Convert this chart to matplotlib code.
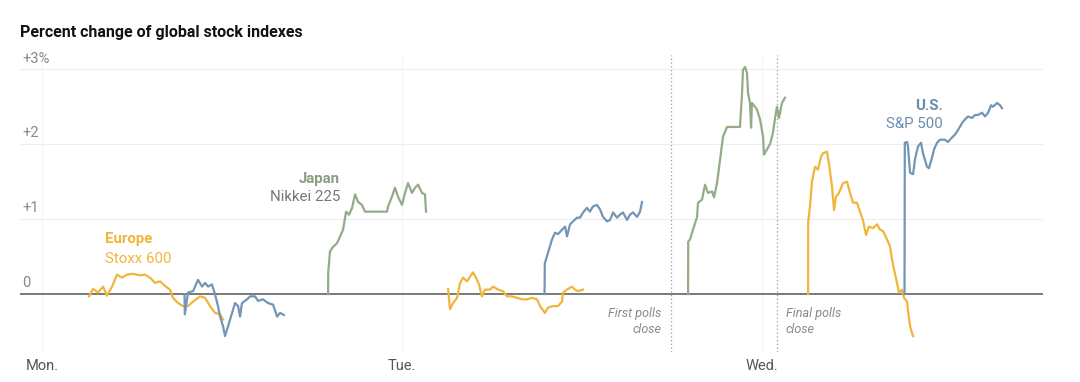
import numpy as np
import matplotlib.pyplot as plt
from matplotlib import transforms

# hours since Monday 00:00 ET, percent change
eu_mon_t = [3.13, 3.40, 3.73, 4.07, 4.33, 4.67, 5.00, 5.33, 5.67, 6.07, 6.53, 6.87, 7.20, 7.53,
            7.87, 8.20, 8.53, 8.73, 9.07, 9.40, 9.73, 10.07, 10.53, 10.87, 11.20, 11.53, 11.87, 12.07]
eu_mon_v = [-0.03, 0.07, 0.02, 0.10, -0.02, 0.10, 0.26, 0.22, 0.26, 0.27, 0.25, 0.26, 0.22, 0.15,
            0.17, 0.11, 0.06, -0.05, -0.12, -0.16, -0.16, -0.10, -0.03, -0.05, -0.16, -0.25, -0.27, -0.34]

us_mon_t = [9.50, 9.52, 9.73, 10.07, 10.40, 10.67, 10.87, 11.07, 11.33, 11.53, 11.73, 11.87, 12.07, 12.20, 12.40,
            12.67, 12.87, 13.07, 13.20, 13.33, 13.67, 13.87, 14.20, 14.40, 14.73, 15.07, 15.40, 15.67, 15.87, 16.13]
us_mon_v = [0, -0.27, 0.02, 0.04, 0.19, 0.10, 0.15, 0.10, 0.13, 0.0, -0.16, -0.30, -0.43, -0.56, -0.43,
            -0.25, -0.12, -0.16, -0.30, -0.12, -0.07, -0.03, -0.03, -0.09, -0.07, -0.12, -0.14, -0.30, -0.25, -0.28]

jp_tue_t = [19.07, 19.08, 19.20, 19.40, 19.67, 19.87, 20.07, 20.27, 20.47, 20.67, 20.87, 21.07, 21.33, 21.53,
            23.00, 23.07, 23.33, 23.53, 23.73, 24.00, 24.20, 24.40, 24.67, 24.87, 25.07, 25.33, 25.53, 25.60]
jp_tue_v = [0, 0.29, 0.57, 0.63, 0.68, 0.77, 0.86, 1.10, 1.06, 1.15, 1.33, 1.23, 1.19, 1.10,
            1.10, 1.17, 1.30, 1.42, 1.30, 1.19, 1.35, 1.48, 1.35, 1.42, 1.46, 1.35, 1.33, 1.10]

eu_tue_t = [27.07, 27.20, 27.40, 27.67, 27.87, 28.07, 28.33, 28.53, 28.73, 28.93, 29.13, 29.33, 29.53, 29.87,
            30.07, 30.40, 30.73, 31.00, 31.33, 31.67, 32.00, 32.33, 32.67, 33.00, 33.20, 33.53, 33.73, 34.07,
            34.40, 34.67, 34.73, 35.00, 35.33, 35.53, 35.73, 36.07]
eu_tue_v = [0.07, -0.20, -0.12, -0.05, 0.15, 0.22, 0.17, 0.23, 0.29, 0.22, 0.13, -0.03, 0.06, 0.06,
            0.10, 0.06, 0.04, -0.03, -0.03, -0.05, -0.07, -0.07, -0.05, -0.07, -0.16, -0.25, -0.18, -0.16,
            -0.16, -0.10, 0.02, 0.06, 0.10, 0.06, 0.04, 0.06]

us_tue_t = [33.50, 33.52, 33.73, 34.00, 34.20, 34.40, 34.67, 34.87, 35.00, 35.20, 35.40, 35.67, 35.87, 36.07,
            36.33, 36.53, 36.73, 37.00, 37.20, 37.40, 37.67, 37.87, 38.07, 38.33, 38.53, 38.73, 39.00, 39.20,
            39.40, 39.67, 39.87, 40.00]
us_tue_v = [0, 0.41, 0.55, 0.73, 0.82, 0.80, 0.86, 0.90, 0.77, 0.93, 0.97, 1.02, 1.02, 1.09,
            1.15, 1.10, 1.17, 1.19, 1.13, 1.03, 0.97, 0.99, 1.09, 1.02, 1.06, 1.09, 0.99, 1.06,
            1.09, 1.03, 1.10, 1.23]

jp_wed_t = [43.07, 43.08, 43.20, 43.40, 43.67, 43.73, 44.00, 44.20, 44.40, 44.67, 44.80, 45.00, 45.20, 45.40,
            45.67, 46.53, 46.67, 46.73, 46.87, 47.00, 47.07, 47.20, 47.27, 47.33, 47.53, 47.67, 47.87, 48.07,
            48.13, 48.33, 48.53, 48.73, 48.87, 49.00, 49.13, 49.33, 49.53]
jp_wed_v = [0, 0.70, 0.73, 0.86, 1.03, 1.22, 1.26, 1.46, 1.35, 1.37, 1.29, 1.48, 1.79, 2.10,
            2.23, 2.23, 2.68, 2.99, 3.03, 2.95, 2.68, 2.55, 2.22, 2.55, 2.50, 2.46, 2.33, 2.10,
            1.86, 1.93, 2.00, 2.15, 2.35, 2.50, 2.35, 2.55, 2.62]

eu_wed_t = [51.07, 51.08, 51.20, 51.33, 51.53, 51.73, 51.93, 52.07, 52.33, 52.47, 52.67, 52.80, 52.93, 53.13,
            53.40, 53.67, 53.87, 54.07, 54.33, 54.60, 54.73, 54.93, 55.13, 55.40, 55.67, 55.87, 56.07, 56.33,
            56.53, 56.67, 56.80, 57.00, 57.13, 57.33, 57.47, 57.67, 57.73, 57.87, 58.00, 58.07]
eu_wed_v = [0, 0.97, 1.17, 1.50, 1.70, 1.66, 1.83, 1.88, 1.90, 1.73, 1.43, 1.12, 1.30, 1.35,
            1.48, 1.50, 1.35, 1.22, 1.22, 1.06, 0.99, 0.79, 0.90, 0.88, 0.93, 0.86, 0.84, 0.73,
            0.64, 0.46, 0.33, 0.15, 0.02, 0.06, -0.05, -0.10, -0.21, -0.43, -0.52, -0.56]

us_wed_t = [57.50, 57.52, 57.67, 57.73, 57.87, 58.07, 58.20, 58.40, 58.60, 58.73, 59.00, 59.13, 59.33, 59.47,
            59.67, 59.87, 60.20, 60.40, 60.67, 60.87, 61.07, 61.33, 61.53, 61.73, 62.00, 62.20, 62.40, 62.67,
            62.87, 63.07, 63.27, 63.40, 63.67, 63.87, 64.00]
us_wed_v = [0, 2.02, 2.03, 1.97, 1.62, 1.60, 1.80, 1.97, 2.02, 1.88, 1.70, 1.68, 1.82, 1.93,
            2.02, 2.06, 2.06, 2.03, 2.09, 2.13, 2.19, 2.28, 2.33, 2.37, 2.35, 2.39, 2.39, 2.42,
            2.37, 2.42, 2.52, 2.50, 2.55, 2.52, 2.48]

day_ticks = [0, 24, 48]
day_labels = ["Mon.", "Tue.", "Wed."]
y_ticks = [0, 1, 2, 3]
y_labels = ["0", "+1", "+2", "+3%"]
first_polls = 41.93
final_polls = 49.0

orange = "#f2b53c"
green = "#94ab88"
blue = "#7395b6"

plt.rcParams['font.family'] = ['Roboto', 'DejaVu Sans']

fig = plt.figure(figsize=(10.8, 3.82), dpi=100)
fig.patch.set_facecolor("white")
ax = fig.add_axes([0.0185, 0.079, 0.9472, 0.777])
ax.set_xlim(-1.47, 66.73)
ax.set_ylim(-0.77, 3.19)
for s in ax.spines.values():
    s.set_visible(False)

# grid
for y in y_ticks[1:]:
    ax.axhline(y, color="#eeeeee", lw=0.8, zorder=0)
for d in day_ticks:
    ax.axvline(d, color="#f5f5f5", lw=0.8, zorder=0)
ax.axhline(0, color="#555555", lw=1.1, zorder=1)

ytr = transforms.blended_transform_factory(ax.transAxes, ax.transData)
for y, lab in zip(y_ticks, y_labels):
    ax.text(0.002, y + 0.05, lab, transform=ytr, ha="left", va="bottom",
            fontsize=10.5, color="#888888")

ax.set_xticks(day_ticks)
ax.set_xticklabels(day_labels, fontsize=10.5, color="#555555")
ax.tick_params(axis="x", length=0, pad=5)
ax.set_yticks([])

# poll closing lines
for xp in [first_polls, final_polls]:
    ax.axvline(xp, color="#999999", lw=0.9, ls=(0, (1, 2)), zorder=1)

lw = 1.6
ax.plot(eu_mon_t, eu_mon_v, color=orange, lw=lw, zorder=3)
ax.plot(us_mon_t, us_mon_v, color=blue, lw=lw, zorder=3)
ax.plot(jp_tue_t, jp_tue_v, color=green, lw=lw, zorder=3)
ax.plot(eu_tue_t, eu_tue_v, color=orange, lw=lw, zorder=3)
ax.plot(us_tue_t, us_tue_v, color=blue, lw=lw, zorder=3)
ax.plot(jp_wed_t, jp_wed_v, color=green, lw=lw, zorder=3)
ax.plot(eu_wed_t, eu_wed_v, color=orange, lw=lw, zorder=3)
ax.plot(us_wed_t, us_wed_v, color=blue, lw=lw, zorder=3)

# series labels
fs = 10.8
ax.text(4.2, 0.73, "Europe", color=orange, fontsize=fs, fontweight="bold", ha="left", va="center")
ax.text(4.2, 0.47, "Stoxx 600", color=orange, fontsize=fs, ha="left", va="center")
ax.text(19.87, 1.53, "Japan", color="#8a9b7e", fontsize=fs, fontweight="bold", ha="right", va="center")
ax.text(19.87, 1.29, "Nikkei 225", color="#777777", fontsize=fs, ha="right", va="center")
ax.text(60.07, 2.51, "U.S.", color="#6a8db0", fontsize=fs, fontweight="bold", ha="right", va="center")
ax.text(60.07, 2.27, "S&P 500", color="#6a8db0", fontsize=fs, ha="right", va="center")

ax.text(41.27, -0.26, "First polls", color="#888888", fontsize=9, style="italic", ha="right", va="center")
ax.text(41.27, -0.47, "close", color="#888888", fontsize=9, style="italic", ha="right", va="center")
ax.text(49.6, -0.26, "Final polls", color="#888888", fontsize=9, style="italic", ha="left", va="center")
ax.text(49.6, -0.47, "close", color="#888888", fontsize=9, style="italic", ha="left", va="center")

fig.text(0.0185, 0.915, "Percent change of global stock indexes", fontsize=11.5,
         fontweight="bold", color="#121212", ha="left", va="center")

fig.savefig("out.png", dpi=100)
